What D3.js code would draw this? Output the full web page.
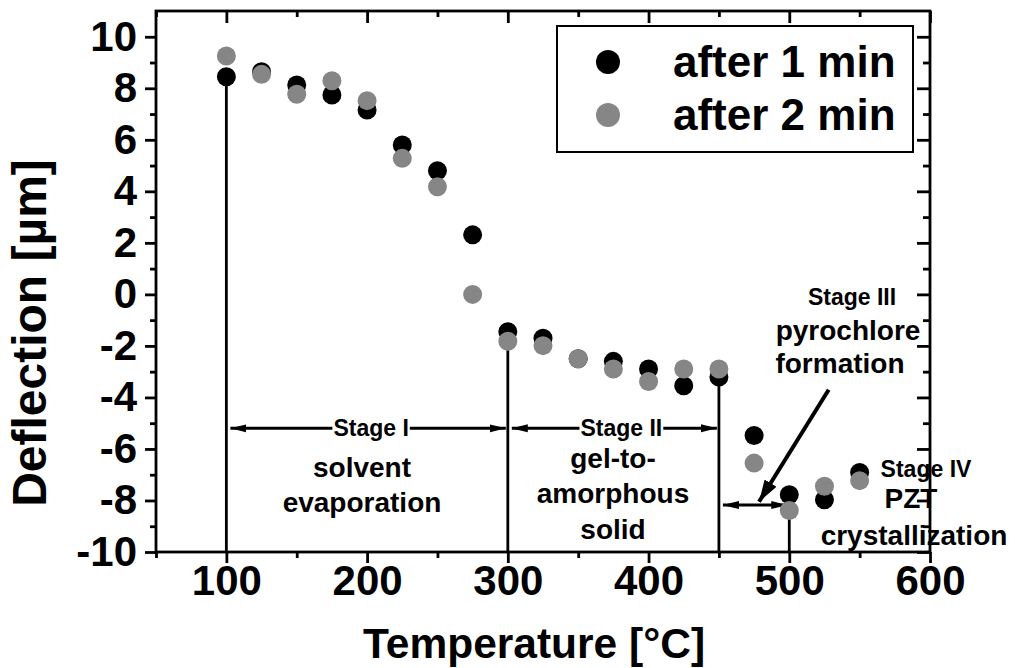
<!DOCTYPE html>
<html>
<head>
<meta charset="utf-8">
<script src="https://cdn.jsdelivr.net/npm/d3@7"></script>
<style>
  body { margin: 0; background: #fff; }
  svg text { font-family: "Liberation Sans", Arial, sans-serif; font-weight: bold; fill: #000; }
</style>
</head>
<body>
<svg id="chart" width="1015" height="668"></svg>
<script>
// temperatura de recocido y deflexion medida
const temps  = [100, 125, 150, 175, 200, 225, 250, 275, 300, 325, 350, 375, 400, 425, 450, 475, 500, 525, 550]
const after1 = [8.45, 8.64, 8.13, 7.74, 7.16, 5.80, 4.80, 2.31, -1.45, -1.70, -2.50, -2.60, -2.90, -3.55, -3.21, -5.48, -7.78, -7.97, -6.91]
const after2 = [9.25, 8.54, 7.77, 8.29, 7.52, 5.28, 4.18, 0.00, -1.82, -1.99, -2.50, -2.90, -3.38, -2.90, -2.90, -6.55, -8.39, -7.45, -7.23]

const xMajor = [100, 200, 300, 400, 500, 600]
const xMinor = [50, 150, 250, 350, 450, 550]
const yMajor = [-10, -8, -6, -4, -2, 0, 2, 4, 6, 8, 10]
const yMinor = [-9, -7, -5, -3, -1, 1, 3, 5, 7, 9]

// limites de las etapas (lineas verticales)
const stageTemps = [100, 300, 450, 500]
const stageTops  = [8.45, -1.45, -3.21, -8.39]

const svg = d3.select('#chart')
const mLeft = 156, mRight = 930, mTop = 11, mBottom = 552

const x = d3.scaleLinear().domain([50, 600]).range([mLeft, mRight])
const y = d3.scaleLinear().domain([-10, 11]).range([mBottom, mTop])

const black = '#000'
const grey = '#868686'
const lw = 2.8

// ---- marcadores de flecha
const defs = svg.append('defs')
defs.append('marker')
    .attr('id', 'head')
    .attr('markerUnits', 'userSpaceOnUse')
    .attr('viewBox', '0 0 16 10')
    .attr('refX', 16).attr('refY', 5)
    .attr('markerWidth', 16).attr('markerHeight', 10)
    .attr('orient', 'auto-start-reverse')
    .append('path').attr('d', 'M0 1 L16 5 L0 9 Z').attr('fill', black)

defs.append('marker')
    .attr('id', 'bighead')
    .attr('markerUnits', 'userSpaceOnUse')
    .attr('viewBox', '0 0 22 14')
    .attr('refX', 22).attr('refY', 7)
    .attr('markerWidth', 22).attr('markerHeight', 14)
    .attr('orient', 'auto')
    .append('path').attr('d', 'M0 0 L22 7 L0 14 Z').attr('fill', black)

// ---- ejes
function styleAxis(g) {
    g.select('.domain').remove()
    g.selectAll('line').attr('stroke', black).attr('stroke-width', lw)
    g.selectAll('text').style('font-size', '42px').attr('fill', black)
}

const plain = (d) => String(d)   // guion normal, no el signo menos unicode

svg.append('g').attr('transform', `translate(0,${mBottom})`)
    .call(d3.axisBottom(x).tickValues(xMajor).tickSize(11).tickPadding(2).tickFormat(plain))
    .call(styleAxis)
svg.append('g').attr('transform', `translate(0,${mBottom})`)
    .call(d3.axisBottom(x).tickValues(xMinor).tickSize(6).tickFormat(''))
    .call(styleAxis)
svg.append('g').attr('transform', `translate(0,${mTop})`)
    .call(d3.axisBottom(x).tickValues(xMajor).tickSize(12).tickFormat(''))
    .call(styleAxis)
svg.append('g').attr('transform', `translate(0,${mTop})`)
    .call(d3.axisBottom(x).tickValues(xMinor).tickSize(6).tickFormat(''))
    .call(styleAxis)

svg.append('g').attr('transform', `translate(${mLeft},0)`)
    .call(d3.axisLeft(y).tickValues(yMajor).tickSize(11).tickPadding(8).tickFormat(plain))
    .call(styleAxis)
svg.append('g').attr('transform', `translate(${mLeft},0)`)
    .call(d3.axisLeft(y).tickValues(yMinor).tickSize(6).tickFormat(''))
    .call(styleAxis)
svg.append('g').attr('transform', `translate(${mRight},0)`)
    .call(d3.axisLeft(y).tickValues(yMajor).tickSize(13).tickFormat(''))
    .call(styleAxis)
svg.append('g').attr('transform', `translate(${mRight},0)`)
    .call(d3.axisLeft(y).tickValues(yMinor).tickSize(7).tickFormat(''))
    .call(styleAxis)

svg.append('rect')
    .attr('x', mLeft).attr('y', mTop)
    .attr('width', mRight - mLeft).attr('height', mBottom - mTop)
    .attr('fill', 'none').attr('stroke', black).attr('stroke-width', lw)

// titulos
svg.append('text')
    .attr('x', 534).attr('y', 658)
    .attr('text-anchor', 'middle')
    .style('font-size', '42.5px')
    .text('Temperature [°C]')

svg.append('text')
    .attr('transform', `translate(46,${y(-1.5)}) rotate(-90)`)
    .attr('text-anchor', 'middle')
    .style('font-size', '48px')
    .text('Deflection [µm]')

// ---- lineas verticales de etapas
svg.append('g')
    .selectAll('line')
    .data(stageTemps)
    .join('line')
    .attr('x1', (d) => x(d)).attr('x2', (d) => x(d))
    .attr('y1', (d, i) => y(stageTops[i]))
    .attr('y2', mBottom)
    .attr('stroke', black).attr('stroke-width', lw)

// ---- flechas horizontales
const arrows = [
    { from: 100, to: 300, at: -5.2, label: 'Stage I' },
    { from: 300, to: 450, at: -5.2, label: 'Stage II' },
    { from: 450, to: 500, at: -8.18, label: null }
]

arrows.forEach(function (a) {
    svg.append('line')
        .attr('x1', x(a.from) + 4).attr('x2', x(a.to) - 2)
        .attr('y1', y(a.at)).attr('y2', y(a.at))
        .attr('stroke', black).attr('stroke-width', 3)
        .attr('marker-start', 'url(#head)')
        .attr('marker-end', 'url(#head)')

    if (a.label) {
        let t = svg.append('text')
            .attr('x', (x(a.from) + x(a.to)) / 2 + (a.from == 100 ? 4 : 8))
            .attr('y', y(a.at) + 8)
            .attr('text-anchor', 'middle')
            .style('font-size', '23px')
            .text(a.label)
        let bb = t.node().getBBox()
        svg.insert('rect', () => t.node())
            .attr('x', bb.x - 1).attr('y', bb.y)
            .attr('width', bb.width + 2).attr('height', bb.height)
            .attr('fill', '#fff')
    }
})

// flecha diagonal hacia la formacion de pirocloro
svg.append('line')
    .attr('x1', x(528)).attr('y1', y(-3.7))
    .attr('x2', x(478.5)).attr('y2', y(-8.05))
    .attr('stroke', black).attr('stroke-width', 4)
    .attr('marker-end', 'url(#bighead)')

// ---- textos de las etapas
const notes = [
    { t: 'solvent', cx: 362, by: 477, s: 28 },
    { t: 'evaporation', cx: 362, by: 512, s: 28 },
    { t: 'gel-to-', cx: 613, by: 468, s: 28 },
    { t: 'amorphous', cx: 613, by: 503, s: 28 },
    { t: 'solid', cx: 613, by: 539, s: 28 },
    { t: 'Stage III', cx: 852, by: 305, s: 23 },
    { t: 'pyrochlore', cx: 848, by: 340, s: 28 },
    { t: 'formation', cx: 840, by: 373, s: 28 },
    { t: 'Stage IV', cx: 926, by: 477, s: 23 },
    { t: 'PZT', cx: 911, by: 508, s: 28 },
    { t: 'crystallization', cx: 914, by: 545, s: 28 }
]

svg.append('g')
    .selectAll('text')
    .data(notes)
    .join('text')
    .attr('x', (d) => d.cx)
    .attr('y', (d) => d.by)
    .attr('text-anchor', 'middle')
    .style('font-size', (d) => d.s + 'px')
    .text((d) => d.t)

// ---- puntos
svg.append('g')
    .selectAll('circle')
    .data(temps)
    .join('circle')
    .attr('cx', (d) => x(d))
    .attr('cy', (d, i) => y(after1[i]))
    .attr('r', 9.5)
    .attr('fill', black)

svg.append('g')
    .selectAll('circle')
    .data(temps)
    .join('circle')
    .attr('cx', (d) => x(d))
    .attr('cy', (d, i) => y(after2[i]))
    .attr('r', 9.5)
    .attr('fill', grey)

// ---- leyenda
const legend = svg.append('g')
legend.append('rect')
    .attr('x', 557).attr('y', 26)
    .attr('width', 356).attr('height', 126)
    .attr('fill', '#fff').attr('stroke', black).attr('stroke-width', 2)

const series = [
    { name: 'after 1 min', color: black },
    { name: 'after 2 min', color: grey }
]
series.forEach(function (s, i) {
    legend.append('circle')
        .attr('cx', 608).attr('cy', 62 + i * 53)
        .attr('r', 12).attr('fill', s.color)
    legend.append('text')
        .attr('x', 673).attr('y', 77 + i * 53)
        .style('font-size', '44px')
        .text(s.name)
})
</script>
</body>
</html>
